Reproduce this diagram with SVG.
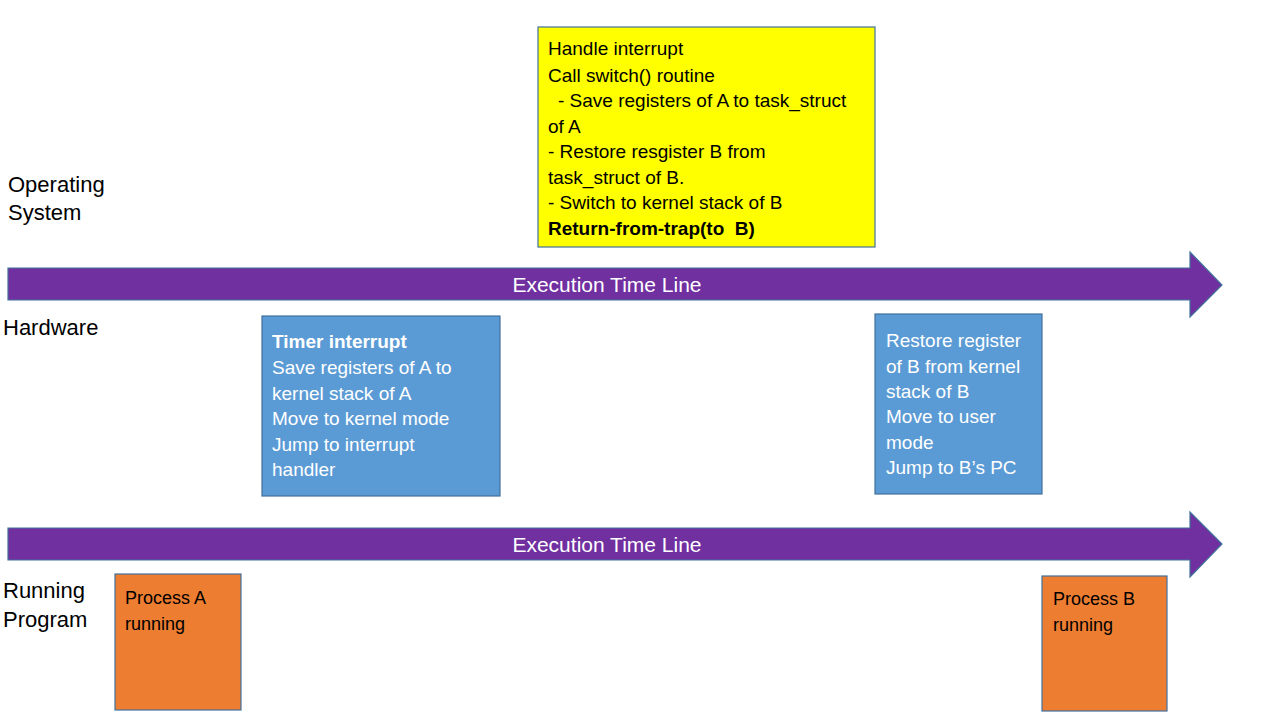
<svg xmlns="http://www.w3.org/2000/svg" width="1280" height="720" viewBox="0 0 1280 720">
<style>
  .box { stroke: #41719C; stroke-width: 1.2; }
  .yellow { fill: #FFFF00; }
  .blue { fill: #5B9BD5; }
  .orange { fill: #ED7D31; }
  .arrow { fill: #7030A0; stroke: #41719C; stroke-width: 1.2; }
  text { font-family: "Liberation Sans", Arial, sans-serif; }
  .dark { fill: #000000; font-size: 19px; }
  .light { fill: #FFFFFF; font-size: 19px; }
  .proc { fill: #000000; font-size: 18px; }
  .lbl { fill: #000000; font-size: 22px; }
  .tl { fill: #FFFFFF; font-size: 21px; }
  .b { font-weight: bold; }
</style>
<rect width="1280" height="720" fill="#FFFFFF"/>

<g id="timelines">
  <g id="timeline-top">
    <path class="arrow" d="M8,268 H1190 V252 L1222,285 L1190,317 V300 H8 Z"/>
    <text class="tl" x="607" y="292" text-anchor="middle">Execution Time Line</text>
  </g>
  <g id="timeline-bottom">
    <path class="arrow" d="M8,528 H1190 V512 L1222,544 L1190,577 V560 H8 Z"/>
    <text class="tl" x="607" y="552" text-anchor="middle">Execution Time Line</text>
  </g>
</g>

<g id="labels">
  <text class="lbl" x="8" y="192">Operating</text>
  <text class="lbl" x="8" y="220">System</text>
  <text class="lbl" x="3" y="335">Hardware</text>
  <text class="lbl" x="3" y="598">Running</text>
  <text class="lbl" x="3" y="627">Program</text>
</g>

<g id="os-handler">
  <rect class="box yellow" x="538" y="27" width="337" height="220"/>
  <text class="dark">
    <tspan x="548" y="55">Handle interrupt</tspan>
    <tspan x="548" y="81.5">Call switch() routine</tspan>
    <tspan x="558" y="107">- Save registers of A to task_struct</tspan>
    <tspan x="548" y="132.5">of A</tspan>
    <tspan x="548" y="158">- Restore resgister B from</tspan>
    <tspan x="548" y="183.5">task_struct of B.</tspan>
    <tspan x="548" y="209">- Switch to kernel stack of B</tspan>
  </text>
  <text class="dark b" x="548" y="235" xml:space="preserve">Return-from-trap(to  B)</text>
</g>

<g id="hw-timer">
  <rect class="box blue" x="262" y="316" width="238" height="180"/>
  <text class="light b" x="272" y="348">Timer interrupt</text>
  <text class="light">
    <tspan x="272" y="374">Save registers of A to</tspan>
    <tspan x="272" y="399.5">kernel stack of A</tspan>
    <tspan x="272" y="425">Move to kernel mode</tspan>
    <tspan x="272" y="450.5">Jump to interrupt</tspan>
    <tspan x="272" y="476">handler</tspan>
  </text>
</g>

<g id="hw-restore">
  <rect class="box blue" x="875" y="314" width="167" height="180"/>
  <text class="light">
    <tspan x="886" y="347">Restore register</tspan>
    <tspan x="886" y="372.5">of B from kernel</tspan>
    <tspan x="886" y="397.5">stack of B</tspan>
    <tspan x="886" y="423">Move to user</tspan>
    <tspan x="886" y="448.5">mode</tspan>
    <tspan x="886" y="474">Jump to B’s PC</tspan>
  </text>
</g>

<g id="process-a">
  <rect class="box orange" x="115" y="574" width="126" height="136"/>
  <text class="proc">
    <tspan x="125" y="603.5">Process A</tspan>
    <tspan x="125" y="629.5">running</tspan>
  </text>
</g>

<g id="process-b">
  <rect class="box orange" x="1042" y="576" width="125" height="135"/>
  <text class="proc">
    <tspan x="1053" y="605">Process B</tspan>
    <tspan x="1053" y="631">running</tspan>
  </text>
</g>

<g id="connectors"></g>
</svg>
